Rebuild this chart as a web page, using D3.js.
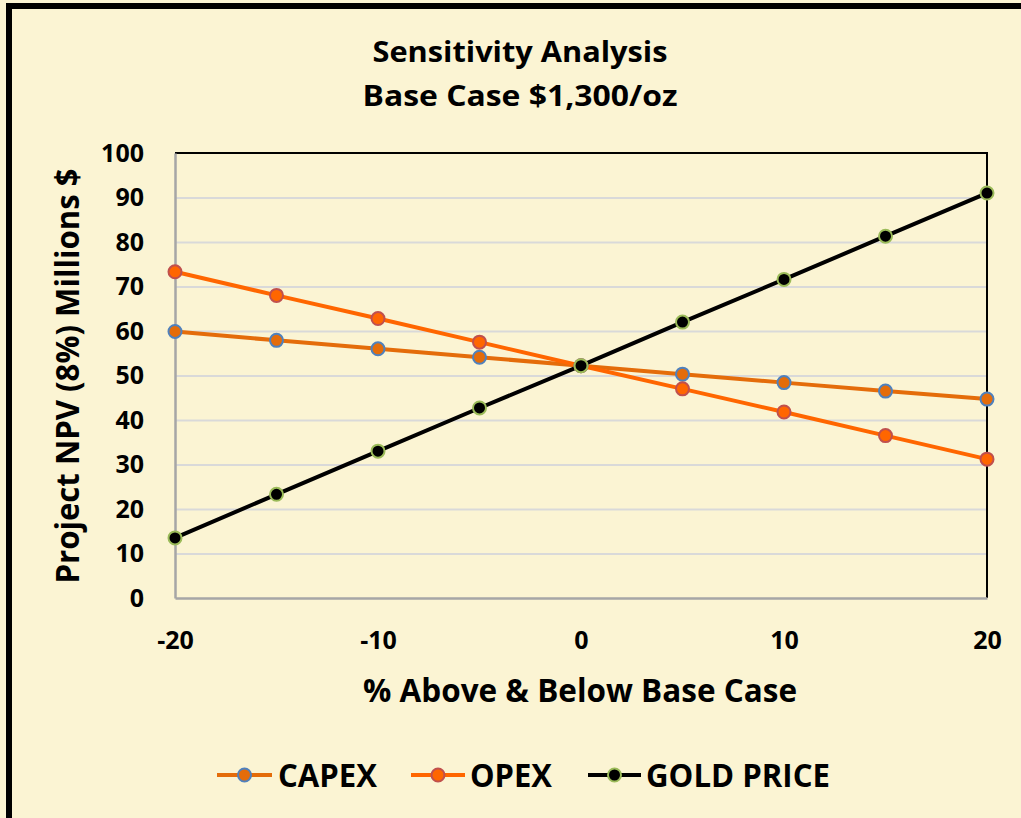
<!DOCTYPE html>
<html>
<head>
<meta charset="utf-8">
<script src="https://cdn.jsdelivr.net/npm/d3@7"></script>
<style>
html,body{margin:0;padding:0;background:#FBF4D3;}
svg{display:block;}
text{font-family:"Open Sans","DejaVu Sans",sans-serif;font-weight:bold;fill:#000;}
</style>
</head>
<body>
<svg id="chart" width="1021" height="818"></svg>
<script>
// ---- data ----
const xValues = [-20, -15, -10, -5, 0, 5, 10, 15, 20];
const capex = [59.9, 57.9, 56.0, 54.1, 52.2, 50.3, 48.4, 46.5, 44.7];
const opex = [73.3, 68.0, 62.8, 57.5, 52.2, 47.0, 41.8, 36.5, 31.2];
const gold = [13.5, 23.3, 33.0, 42.7, 52.2, 62.0, 71.6, 81.3, 91.0];
const seriesNames = ["CAPEX", "OPEX", "GOLD PRICE"];
const xTicks = [-20, -10, 0, 10, 20];
const xTickLabels = ["-20", "-10", "0", "10", "20"];
const yTicks = [0, 10, 20, 30, 40, 50, 60, 70, 80, 90, 100];
const titleLines = ["Sensitivity Analysis", "Base Case $1,300/oz"];
const xTitle = "% Above & Below Base Case";
const yTitle = "Project NPV (8%) Millions $";

const styles = [
  {line: "#E46C0A", fill: "#E46C0A", stroke: "#4F81BD"},
  {line: "#FF6600", fill: "#FF6600", stroke: "#C0504D"},
  {line: "#000000", fill: "#000000", stroke: "#9BBB59"}
];
const seriesData = [capex, opex, gold];

const svg = d3.select("#chart");
svg.append("rect").attr("x", 0).attr("y", 0).attr("width", 1021).attr("height", 818).attr("fill", "#FBF4D3");
// outer chart border (extends beyond the visible area at right/bottom)
svg.append("rect").attr("x", 9).attr("y", 6).attr("width", 1040).attr("height", 840)
  .attr("fill", "none").attr("stroke", "#000").attr("stroke-width", 6);

const L = 175, R = 987, T = 153, B = 598;
const x = d3.scaleLinear().domain([-20, 20]).range([L, R]);
const y = d3.scaleLinear().domain([0, 100]).range([B, T]);

function fit(sel, w) { sel.attr("textLength", w).attr("lengthAdjust", "spacingAndGlyphs"); }

// titles
svg.append("text").attr("x", 520).attr("y", 62).attr("text-anchor", "middle")
  .style("font-size", "29px").text(titleLines[0]).call(fit, 295);
svg.append("text").attr("x", 520).attr("y", 106).attr("text-anchor", "middle")
  .style("font-size", "29px").text(titleLines[1]).call(fit, 315);

// gridlines
const grid = svg.append("g").attr("transform", `translate(${L},0)`)
  .call(d3.axisLeft(y).tickValues(yTicks.filter(d => d > 0 && d < 100)).tickSize(-(R - L)).tickFormat(""));
grid.select(".domain").remove();
grid.selectAll("line").attr("stroke", "#D9D9D9").attr("stroke-width", 2);

// plot border: top & right black
svg.append("line").attr("x1", L).attr("x2", R + 1).attr("y1", y(100)).attr("y2", y(100)).attr("stroke", "#000").attr("stroke-width", 2);
svg.append("line").attr("x1", R).attr("x2", R).attr("y1", y(100)).attr("y2", y(0)).attr("stroke", "#000").attr("stroke-width", 2);

// axes (gray)
const yAxis = svg.append("g").attr("transform", `translate(${L},0)`)
  .call(d3.axisLeft(y).tickValues(yTicks).tickSize(0).tickPadding(31).tickFormat(d => String(d)));
yAxis.select(".domain").attr("stroke", "#A6A6A6").attr("stroke-width", 2.5);
yAxis.selectAll("text").style("font-size", "25px").attr("font-family", null).attr("fill", "#000");

const xAxis = svg.append("g").attr("transform", `translate(0,${B})`)
  .call(d3.axisBottom(x).tickValues(xTicks).tickSize(0).tickPadding(30).tickFormat((d, i) => xTickLabels[i]));
xAxis.select(".domain").attr("stroke", "#A6A6A6").attr("stroke-width", 2.5);
xAxis.selectAll("text").style("font-size", "25px").attr("font-family", null).attr("fill", "#000")
  .attr("dy", "0.35em").attr("y", 42);

// axis titles
svg.append("text").attr("x", 580).attr("y", 702).attr("text-anchor", "middle")
  .style("font-size", "32px").text(xTitle).call(fit, 434);
svg.append("text").attr("transform", "translate(79,376) rotate(-90)").attr("text-anchor", "middle")
  .style("font-size", "33px").text(yTitle).call(fit, 415);

// lines and markers
const lineGen = d3.line().x((d, i) => x(xValues[i])).y(d => y(d));
seriesData.forEach((vals, s) => {
  svg.append("path").datum(vals).attr("d", lineGen)
    .attr("fill", "none").attr("stroke", styles[s].line).attr("stroke-width", 4);
});
seriesData.forEach((vals, s) => {
  svg.append("g").selectAll("circle").data(vals).join("circle")
    .attr("cx", (d, i) => x(xValues[i])).attr("cy", d => y(d)).attr("r", 6.5)
    .attr("fill", styles[s].fill).attr("stroke", styles[s].stroke).attr("stroke-width", 2);
});

// legend
const legendItems = [
  {x0: 217, x1: 272, tx: 278, tw: 99},
  {x0: 411, x1: 465, tx: 470, tw: 82},
  {x0: 588, x1: 641, tx: 646, tw: 184}
];
const ly = 775;
legendItems.forEach((it, s) => {
  svg.append("line").attr("x1", it.x0).attr("x2", it.x1).attr("y1", ly).attr("y2", ly)
    .attr("stroke", styles[s].line).attr("stroke-width", 4);
  svg.append("circle").attr("cx", (it.x0 + it.x1) / 2).attr("cy", ly).attr("r", 6.5)
    .attr("fill", styles[s].fill).attr("stroke", styles[s].stroke).attr("stroke-width", 2);
  svg.append("text").attr("x", it.tx).attr("y", ly + 12).style("font-size", "33px")
    .text(seriesNames[s]).call(fit, it.tw);
});
</script>
</body>
</html>
